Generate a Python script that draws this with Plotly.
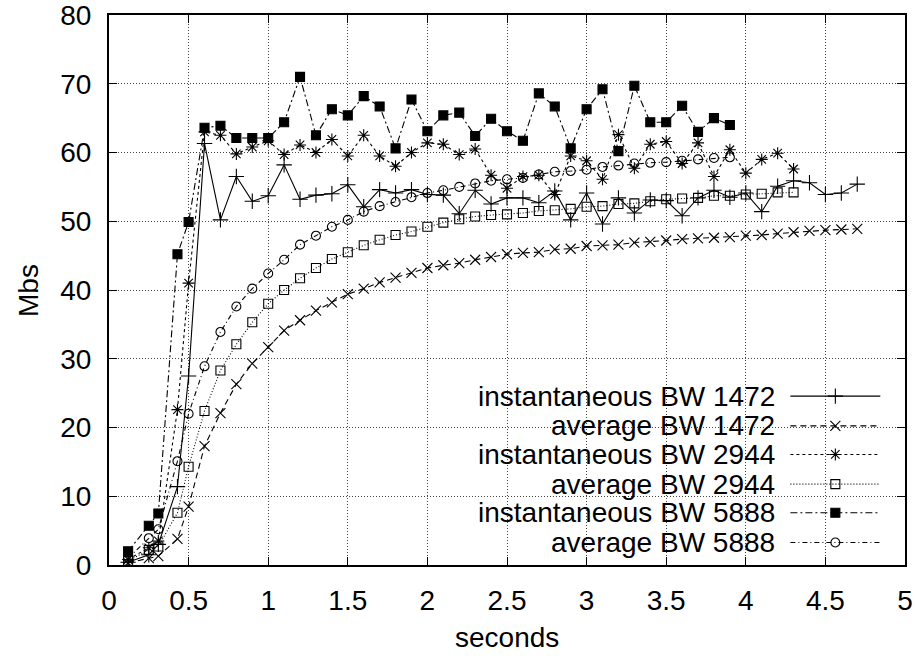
import plotly.graph_objects as go

# ---------------- data ----------------
times = [0.12, 0.25, 0.31, 0.43, 0.5, 0.6, 0.7, 0.8, 0.9, 1.0, 1.1, 1.2, 1.3, 1.4,
         1.5, 1.6, 1.7, 1.8, 1.9, 2.0, 2.1, 2.2, 2.3, 2.4, 2.5, 2.6, 2.7, 2.8, 2.9,
         3.0, 3.1, 3.2, 3.3, 3.4, 3.5, 3.6, 3.7, 3.8, 3.9, 4.0, 4.1, 4.2, 4.3, 4.4,
         4.5, 4.6, 4.7]

inst_1472 = [0.4, 1.5, 3.0, 11.4, 27.5, 61.3, 50.2, 56.5, 52.9, 53.7, 58.2, 53.2, 53.8,
             54.0, 55.3, 52.1, 54.6, 54.1, 54.6, 53.9, 53.8, 51.1, 54.5, 52.5, 53.4, 53.4,
             52.7, 54.4, 50.2, 54.1, 49.6, 53.4, 51.2, 53.1, 53.0, 50.8, 53.4, 54.5, 53.5,
             54.1, 51.4, 55.1, 55.9, 55.6, 53.9, 54.1, 55.4]
avg_1472 = [0.3, 1.0, 1.3, 3.8, 8.5, 17.3, 22.1, 26.3, 29.3, 31.7, 34.1, 35.6, 37.0, 38.2,
            39.4, 40.2, 41.1, 41.8, 42.5, 43.2, 43.6, 43.9, 44.4, 44.8, 45.2, 45.4, 45.5,
            45.9, 46.0, 46.4, 46.5, 46.6, 46.9, 47.0, 47.2, 47.4, 47.5, 47.6, 47.7, 47.9,
            48.0, 48.2, 48.4, 48.6, 48.7, 48.8, 48.9]
inst_2944 = [0.8, 2.5, 3.5, 22.6, 41.0, 63.0, 62.5, 59.8, 60.8, 61.7, 59.7, 61.1, 60.0,
             61.9, 59.5, 62.5, 59.5, 58.0, 60.0, 61.4, 61.2, 59.7, 60.5, 56.7, 54.8, 56.5,
             56.7, 53.9, 59.5, 58.8, 56.1, 62.6, 57.7, 61.2, 61.6, 58.4, 61.4, 56.5, 60.4,
             57.0, 59.0, 59.9, 57.6]
avg_2944 = [0.6, 2.2, 2.7, 7.6, 14.3, 22.4, 28.3, 32.1, 35.3, 38.0, 40.0, 41.7, 43.2, 44.5,
            45.5, 46.5, 47.3, 48.0, 48.5, 49.2, 49.8, 50.3, 50.7, 50.9, 51.0, 51.2, 51.5,
            51.6, 51.8, 52.1, 52.2, 52.5, 52.6, 52.9, 53.2, 53.3, 53.4, 53.7, 53.7, 53.9,
            54.0, 54.2, 54.2]
inst_5888 = [2.0, 5.7, 7.5, 45.2, 49.9, 63.6, 63.9, 62.1, 62.1, 62.1, 64.4, 71.0, 62.5,
             66.3, 65.4, 68.2, 66.7, 60.6, 67.7, 63.1, 65.4, 65.8, 62.4, 64.9, 63.1, 61.7,
             68.6, 66.7, 60.6, 66.3, 69.2, 60.2, 69.7, 64.4, 64.4, 66.8, 63.0, 65.0, 64.0]
avg_5888 = [1.0, 3.9, 5.2, 15.1, 22.0, 28.9, 33.9, 37.6, 40.2, 42.4, 44.4, 46.6, 47.9, 49.2,
            50.2, 51.4, 52.2, 52.8, 53.5, 54.1, 54.5, 55.0, 55.5, 55.9, 56.1, 56.3, 56.8,
            57.2, 57.3, 57.5, 57.9, 58.1, 58.4, 58.5, 58.6, 58.8, 59.0, 59.2, 59.3]

series_names = ["instantaneous BW 1472", "average BW 1472", "instantaneous BW 2944",
                "average BW 2944", "instantaneous BW 5888", "average BW 5888"]
series_values = [inst_1472, avg_1472, inst_2944, avg_2944, inst_5888, avg_5888]

x_tick_vals = [0, 0.5, 1, 1.5, 2, 2.5, 3, 3.5, 4, 4.5, 5]
x_tick_text = ["0", "0.5", "1", "1.5", "2", "2.5", "3", "3.5", "4", "4.5", "5"]
y_tick_vals = [0, 10, 20, 30, 40, 50, 60, 70, 80]
y_tick_text = ["0", "10", "20", "30", "40", "50", "60", "70", "80"]
x_title = "seconds"
y_title = "Mbs"

# ---------------- styles ----------------
FONT = "Liberation Sans, Arial, sans-serif"
FS = 28
styles = [
    dict(dash="solid", symbol="cross-thin-open", size=11),
    dict(dash="6px,4px", symbol="x-thin-open", size=10),
    dict(dash="3px,3px", symbol="asterisk-open", size=10),
    dict(dash="1px,2px", symbol="square-open", size=9),
    dict(dash="7px,3px,2px,3px", symbol="square", size=9),
    dict(dash="5px,3px,1px,3px", symbol="circle-open", size=9),
]

fig = go.Figure()
for name, vals, st in zip(series_names, series_values, styles):
    fig.add_trace(go.Scatter(
        x=times[:len(vals)], y=vals, name=name, mode="lines+markers",
        line=dict(color="black", width=1.1, dash=st["dash"]),
        marker=dict(symbol=st["symbol"], size=st["size"], color="black",
                    line=dict(color="black", width=1.1)),
        showlegend=False,
    ))

# ---------------- custom gnuplot-style key ----------------
key_text_x = 0.839
key_line_x0, key_line_x1 = 0.856, 0.969
key_rows_y = [0.307, 0.253, 0.201, 0.147, 0.095, 0.041]

# white key background that hides the grid
fig.add_shape(type="rect", xref="paper", yref="paper", x0=0.366, x1=1.0, y0=0.0, y1=0.352,
              fillcolor="white", line=dict(width=0), layer="between")

for name, st, ky in zip(series_names, styles, key_rows_y):
    fig.add_annotation(x=key_text_x, y=ky, xref="paper", yref="paper", text=name,
                       showarrow=False, xanchor="right", yanchor="middle",
                       font=dict(family=FONT, size=FS, color="black"))
    fig.add_trace(go.Scatter(
        x=[key_line_x0, key_line_x1], y=[ky, ky], xaxis="x2", yaxis="y2",
        mode="lines", line=dict(color="black", width=1.1, dash=st["dash"]),
        showlegend=False, hoverinfo="skip"))
    fig.add_trace(go.Scatter(
        x=[(key_line_x0 + key_line_x1) / 2], y=[ky], xaxis="x2", yaxis="y2",
        mode="markers",
        marker=dict(symbol=st["symbol"], size=st["size"], color="black",
                    line=dict(color="black", width=1.1)),
        showlegend=False, hoverinfo="skip"))

# axis titles
fig.add_annotation(x=0.5, y=-0.131, xref="paper", yref="paper", text=x_title,
                   showarrow=False, xanchor="center", yanchor="middle",
                   font=dict(family=FONT, size=FS, color="black"))
fig.add_annotation(x=-0.1018, y=0.5, xref="paper", yref="paper", text=y_title,
                   showarrow=False, xanchor="center", yanchor="middle", textangle=-90,
                   font=dict(family=FONT, size=FS, color="black"))

axis_common = dict(
    showline=True, linecolor="black", linewidth=2, mirror="ticks",
    ticks="inside", ticklen=8, tickcolor="black", tickwidth=1,
    showgrid=True, gridcolor="#444444", gridwidth=1, griddash="1px,2px",
    zeroline=False, automargin=False, ticklabeloverflow="allow",
    tickfont=dict(family=FONT, size=FS, color="black"),
)

fig.update_layout(
    width=915, height=658,
    margin=dict(l=109, r=10, t=15, b=93),
    paper_bgcolor="white", plot_bgcolor="white",
    font=dict(family=FONT, size=FS, color="black"),
    xaxis=dict(range=[0, 5], tickvals=x_tick_vals, ticktext=x_tick_text,
               ticklabelstandoff=9, **axis_common),
    yaxis=dict(range=[0, 80], tickvals=y_tick_vals, ticktext=y_tick_text,
               ticklabelstandoff=10, **axis_common),
    xaxis2=dict(range=[0, 1], overlaying="x", visible=False, showgrid=False),
    yaxis2=dict(range=[0, 1], overlaying="y", visible=False, showgrid=False),
)

# remove the default page margin so the figure fills the window exactly
fig.write_html("out.html", config={"displayModeBar": False},
               post_script="document.body.style.margin='0px';")
